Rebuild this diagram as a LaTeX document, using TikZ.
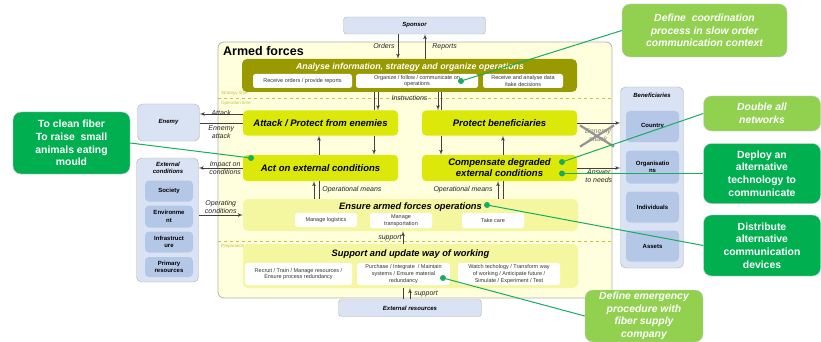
\documentclass[tikz,border=0pt]{standalone}
\usepackage{fontspec}
\setmainfont{Liberation Sans}
\usepackage{tikz}
\usetikzlibrary{shapes, arrows, positioning}
\definecolor{cream}{RGB}{255,255,221}
\definecolor{olivebar}{RGB}{153,153,0}
\definecolor{limefill}{RGB}{220,232,10}
\definecolor{paleyellow}{RGB}{245,246,160}
\definecolor{skyfill}{RGB}{218,227,243}
\definecolor{midblue}{RGB}{180,199,231}
\definecolor{lightgreen}{RGB}{146,208,80}
\definecolor{deepgreen}{RGB}{0,176,80}
\definecolor{linkgreen}{RGB}{25,172,95}
\definecolor{timeline}{RGB}{195,195,70}
\tikzstyle{forcebox} = [rectangle, rounded corners=6pt, draw=gray!60, fill=cream, line width=0.8pt]
\tikzstyle{strategy} = [rectangle, rounded corners=5pt, fill=olivebar]
\tikzstyle{activity} = [rectangle, rounded corners=4pt, fill=limefill, inner sep=0pt, align=center, font=\bfseries\itshape\fontsize{9.5}{11}\selectfont]
\tikzstyle{support}  = [rectangle, rounded corners=5pt, fill=paleyellow]
\tikzstyle{boxtitle} = [font=\bfseries\itshape\fontsize{9.3}{11}\selectfont, inner sep=0pt]
\tikzstyle{task}     = [rectangle, rounded corners=2.5pt, fill=white, inner sep=0pt, align=center, text=black!80, font=\fontsize{5.5}{6.8}\selectfont]
\tikzstyle{actor}    = [rectangle, rounded corners=3pt, draw=gray!60, fill=skyfill, inner sep=0pt, align=center, font=\bfseries\itshape\fontsize{6}{7}\selectfont]
\tikzstyle{member}   = [rectangle, rounded corners=4pt, fill=midblue, inner sep=0pt, align=center, font=\bfseries\fontsize{6}{7.5}\selectfont]
\tikzstyle{idea}     = [rectangle, rounded corners=8pt, draw=gray!40, fill=lightgreen, text=white, inner sep=0pt, align=center, font=\bfseries\itshape\fontsize{10.4}{12.6}\selectfont]
\tikzstyle{solution} = [idea, fill=deepgreen, font=\bfseries\fontsize{10.4}{12.6}\selectfont]
\tikzstyle{note}     = [font=\itshape\fontsize{7}{8}\selectfont, align=center, inner sep=1pt, text=black!85]
\tikzstyle{timenote} = [font=\fontsize{4.5}{5}\selectfont, text=timeline, inner sep=0pt, anchor=west]
\tikzstyle{timesplit}= [draw=timeline, dashed, line width=0.8pt]
\tikzstyle{flow}     = [draw, black!75, line width=0.7pt, -latex']
\tikzstyle{wire}     = [draw, black!75, line width=0.7pt]
\tikzstyle{link}     = [draw=linkgreen, line width=1pt]
\tikzstyle{anchordot}= [circle, fill=linkgreen, inner sep=0pt, minimum size=6pt]

\begin{document}
\begin{tikzpicture}[x=1pt, y=-1pt]
    \useasboundingbox (0,0) rectangle (821,342);

    % armed forces
    \node[forcebox, minimum width=394pt, minimum height=256pt] (forces) at (415,170) {};
    \node[font=\bfseries\fontsize{12.5}{14}\selectfont, anchor=west, inner sep=0pt] (forcestitle) at (223,51) {Armed forces};

    % time horizons
    \draw[timesplit] (218,98) -- (612,98);
    \draw[timesplit] (218,241) -- (612,241);
    \node[timenote] (strattime) at (221,93) {Strategy time};
    \node[timenote] (opertime) at (221,103) {Operation time};
    \node[timenote] (preptime) at (221,246) {Preparation time};

    % strategy level
    \node[strategy, minimum width=335pt, minimum height=33pt] (analyse) at (409.5,75.5) {};
    \node[boxtitle, text=white, font=\bfseries\itshape\fontsize{8.8}{10}\selectfont] (analysetitle) at (410,67) {Analyse information, strategy and organize operations};
    \node[task, minimum width=99pt, minimum height=14pt] (orders) at (302.5,81) {Receive orders / provide reports};
    \node[task, minimum width=122pt, minimum height=14pt] (organize) at (417,81) {Organize / follow / communicate on\\operations};
    \node[task, minimum width=80pt, minimum height=14pt] (decide) at (523,81) {Receive and analyse data\\/take decisions};

    % operation level
    \node[activity, minimum width=155pt, minimum height=25pt] (attack) at (320.5,123) {Attack / Protect from enemies};
    \node[activity, minimum width=155pt, minimum height=25pt] (protect) at (499.5,123) {Protect beneficiaries};
    \node[activity, minimum width=155pt, minimum height=26pt] (act) at (320.5,168) {Act on external conditions};
    \node[activity, minimum width=155pt, minimum height=26pt] (compensate) at (499.5,168) {Compensate degraded\\external conditions};

    \node[support, minimum width=335pt, minimum height=32pt] (ensure) at (410.5,215) {};
    \node[boxtitle] (ensuretitle) at (410.5,207) {Ensure armed forces operations};
    \node[task, minimum width=62pt, minimum height=14pt] (logistics) at (326,220) {Manage logistics};
    \node[task, minimum width=62pt, minimum height=15pt] (transport) at (401,220.5) {Manage\\transportation};
    \node[task, minimum width=62pt, minimum height=15pt] (care) at (493,220.5) {Take care};

    % preparation level
    \node[support, minimum width=335pt, minimum height=44pt] (supportbox) at (410.5,266) {};
    \node[boxtitle] (supporttitle) at (410.5,254) {Support and update way of working};
    \node[task, minimum width=107pt, minimum height=22pt] (recruit) at (298.5,274) {Recruit / Train / Manage resources /\\Ensure process redundancy};
    \node[task, minimum width=93pt, minimum height=22pt] (purchase) at (403.5,274) {Purchase / Integrate~ / Maintain\\systems / Ensure material\\redundancy};
    \node[task, minimum width=102pt, minimum height=22pt] (watch) at (509,274) {Watch techology / Transform way\\of working / Anticipate future /\\Simulate / Experiment / Test};

    % outside actors
    \node[actor, minimum width=142pt, minimum height=17pt] (sponsor) at (414.5,25.5) {Sponsor};
    \node[actor, minimum width=143pt, minimum height=17pt] (extres) at (410,308) {External resources};
    \node[actor, rounded corners=5pt, minimum width=62pt, minimum height=37pt] (enemy) at (168.5,122.5) {Enemy};

    \node[actor, rounded corners=5pt, minimum width=62pt, minimum height=124pt] (extcond) at (167.5,220) {};
    \node[actor, draw=none, fill=none] (extcondtitle) at (168,168) {External\\conditions};
    \node[member, minimum width=48pt, minimum height=21pt] (society) at (169,191) {Society};
    \node[member, minimum width=48pt, minimum height=22pt] (environment) at (169,216.5) {Environme\\nt};
    \node[member, minimum width=48pt, minimum height=21pt] (infra) at (169,242) {Infrastruct\\ure};
    \node[member, minimum width=48pt, minimum height=20pt] (primary) at (169,267) {Primary\\resources};

    \node[actor, rounded corners=5pt, minimum width=63pt, minimum height=181pt] (benef) at (652,177.5) {};
    \node[actor, draw=none, fill=none] (beneftitle) at (652,95) {Beneficiaries};
    \node[member, minimum width=53pt, minimum height=31pt] (country) at (652.5,126.5) {Country};
    \node[member, minimum width=53pt, minimum height=33pt] (organisations) at (652.5,167) {Organisatio\\ns};
    \node[member, minimum width=53pt, minimum height=31pt] (individuals) at (652.5,207) {Individuals};
    \node[member, minimum width=53pt, minimum height=31pt] (assets) at (652.5,246) {Assets};

    % sponsor and instructions
    \draw[flow] ([xshift=-16.5pt]sponsor.south) -- ([xshift=-16.5pt]sponsor.south |- analyse.north) node[midway, left=2pt, note] (orderslabel) {Orders};
    \draw[flow] ([xshift=10.5pt]sponsor.south |- analyse.north) -- ([xshift=10.5pt]sponsor.south) node[midway, right=6pt, note] (reportslabel) {Reports};
    \draw[wire] ([xshift=-35.5pt]analyse.south) -- ([xshift=-35.5pt]analyse.south |- attack.north);
    \draw[flow] ([xshift=-31.5pt]analyse.south) -- ([xshift=-31.5pt]analyse.south |- attack.north);
    \draw[flow] ([xshift=28.5pt]analyse.south) -- ([xshift=28.5pt]analyse.south |- protect.north);
    \draw[wire] ([xshift=31.5pt]analyse.south) -- ([xshift=31.5pt]analyse.south |- protect.north);
    \node[note] (instrlabel) at (409.5,98) {Instructions};

    % between activities
    \draw[flow] ([xshift=-1.5pt]act.north) -- ([xshift=-1.5pt]attack.south);
    \draw[flow] ([xshift=53.5pt]attack.south) -- ([xshift=53.5pt]act.north);
    \draw[flow] ([xshift=-58.5pt]protect.south) -- ([xshift=-58.5pt]compensate.north);
    \draw[flow] ([xshift=3.5pt]compensate.north) -- ([xshift=3.5pt]protect.south);

    \draw[flow] ([xshift=-6.5pt]act.south |- ensure.north) -- ([xshift=-6.5pt]act.south);
    \draw[wire] ([xshift=-1.5pt]act.south |- ensure.north) -- ([xshift=-1.5pt]act.south) node[midway, right=2pt, note] (meansleft) {Operational means};
    \draw[flow] ([xshift=-1.5pt]compensate.south |- ensure.north) -- ([xshift=-1.5pt]compensate.south) node[midway, left=4pt, note] (meansright) {Operational means};
    \draw[wire] ([xshift=3.5pt]compensate.south |- ensure.north) -- ([xshift=3.5pt]compensate.south);

    \draw[flow] ([xshift=-7.5pt]supportbox.north) -- ([xshift=-7.5pt]ensure.south) node[midway, left, note] (supportup) {support};
    \draw[wire] ([xshift=-7pt]extres.north) -- ([xshift=-7pt]extres.north |- supportbox.south);
    \draw[flow] (extres.north) -- (extres.north |- supportbox.south) node[midway, right=3pt, note] (supportin) {support};

    % enemy and external conditions
    \draw[flow] ([yshift=9pt]attack.west) -- ([yshift=9pt]attack.west -| enemy.east) node[midway, above=-3pt, note] (attacklabel) {Attack};
    \draw[wire] (enemy.east |- attack.west) -- (attack.west) node[midway, below=1pt, note] (ennemylabel) {Ennemy\\attack};
    \draw[flow] (act.west) -- (act.west -| extcond.east) node[pos=0.4, note] (impactlabel) {Impact on\\conditions};
    \draw[flow] (extcond.east |- ensure.west) -- (ensure.west) node[midway, above, note] (operlabel) {Operating\\conditions};

    % beneficiaries
    \draw[flow] (protect.east) -- (protect.east -| benef.west);
    \node[note, text=gray] (crossed) at (598,135) {Ennemy\\attack};
    \draw[gray!85, line width=2.2pt] ([xshift=-4pt, yshift=2pt]crossed.north west) -- ([xshift=2pt, yshift=-4pt]crossed.south east);
    \draw[gray!85, line width=2.2pt] ([xshift=2pt, yshift=2pt]crossed.north east) -- ([xshift=-4pt, yshift=-4pt]crossed.south west);
    \draw[flow] (compensate.east) -- (compensate.east -| benef.west) node[midway, below, note] (answerlabel) {Answer\\to needs};

    % improvement ideas
    \node[idea, minimum width=165pt, minimum height=53pt] (coordination) at (704.5,30.5) {Define~ coordination\\process in slow order\\communication context};
    \node[idea, minimum width=117pt, minimum height=35pt] (networks) at (762,113.5) {Double all\\networks};
    \node[solution, minimum width=117pt, minimum height=60pt] (deploy) at (762,173.5) {Deploy an\\alternative\\technology to\\communicate};
    \node[solution, minimum width=117pt, minimum height=61pt] (distribute) at (762,245.5) {Distribute\\alternative\\communication\\devices};
    \node[idea, minimum width=118pt, minimum height=52pt] (emergency) at (644,316) {Define emergency\\procedure with\\fiber supply\\company};
    \node[solution, minimum width=117pt, minimum height=62pt] (fiber) at (71.5,143) {To clean fiber\\To raise~ small\\animals eating\\mould};

    \node[anchordot] (dcoord) at (461,81) {};
    \node[anchordot] (dnet) at (562,162) {};
    \node[anchordot] (ddeploy) at (562,173.5) {};
    \node[anchordot] (ddistribute) at (487,205) {};
    \node[anchordot] (demergency) at (443,278) {};
    \node[anchordot] (dfiber) at (251,158) {};
    \draw[link] (dcoord) -- (coordination.west);
    \draw[link] (dnet) -- (networks.west);
    \draw[link] (ddeploy) -- (deploy.west);
    \draw[link] (ddistribute) -- (distribute.west);
    \draw[link] (demergency) -- (emergency.west);
    \draw[link] (fiber.east) -- (dfiber);
\end{tikzpicture}
\end{document}
